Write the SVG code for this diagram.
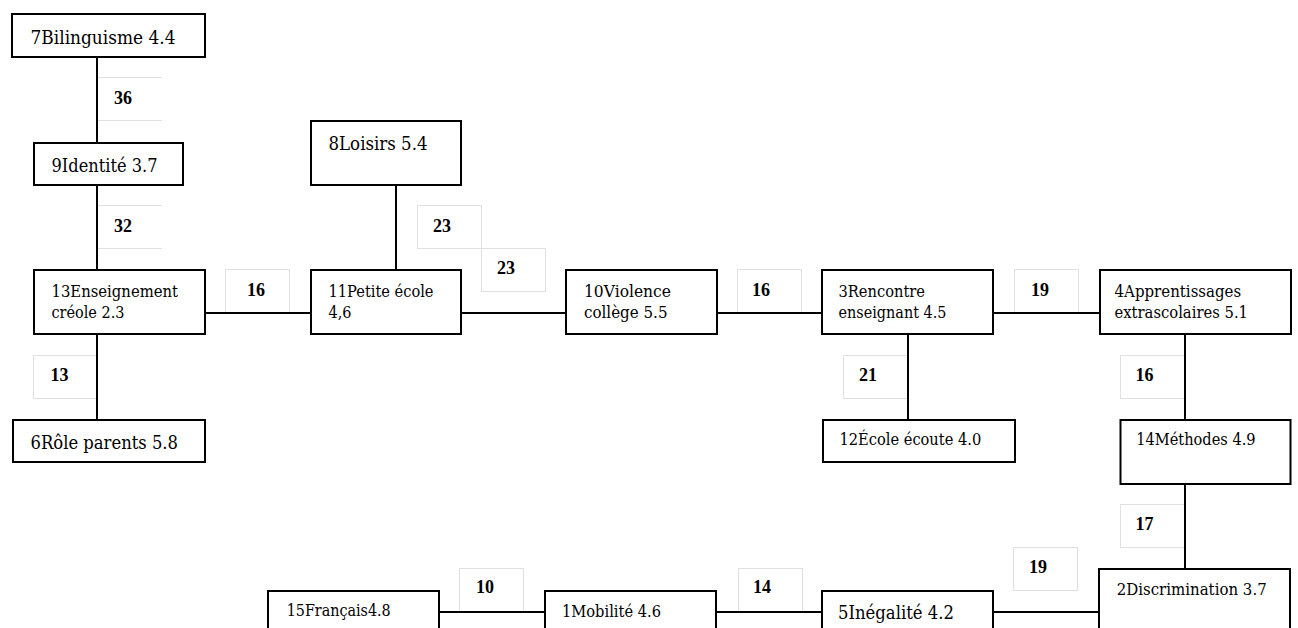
<svg xmlns="http://www.w3.org/2000/svg" width="1298" height="628" viewBox="0 0 1298 628">
<style>
.node rect{fill:#fff;stroke:#000;stroke-width:2}
.node text{font-family:'DejaVu Serif','Liberation Serif',serif;fill:#000}
.s{font-size:17.2px}
.b{font-size:19.3px}
.lbl rect,.lbl path{fill:#fff;stroke:#e0e0e0;stroke-width:1}
.lbl text{font-family:'Liberation Serif','DejaVu Serif',serif;font-weight:bold;font-size:18px;fill:#000}
.conn line{stroke:#000;stroke-width:2}
</style>
<rect width="1298" height="628" fill="#fff"/>
<g id="labels" class="lbl">
<g id="l-7-9"><path d="M97 77.5H162M97 120.5H162"/><text x="114" y="104">36</text></g>
<g id="l-9-13"><path d="M97 205.5H162M97 248.5H162"/><text x="114" y="232">32</text></g>
<g id="l-13-11"><rect x="225.5" y="269.5" width="64" height="43.5"/><text x="247" y="295.5">16</text></g>
<g id="l-8-11"><rect x="417.5" y="205.5" width="64" height="43"/><text x="433" y="231.5">23</text></g>
<g id="l-11-10"><rect x="481.5" y="248.5" width="64" height="43"/><text x="497" y="274">23</text></g>
<g id="l-10-3"><rect x="737.5" y="269.5" width="64" height="43.5"/><text x="752" y="295.5">16</text></g>
<g id="l-3-4"><rect x="1014.5" y="269.5" width="64" height="43.5"/><text x="1031" y="295.5">19</text></g>
<g id="l-13-6"><rect x="33.5" y="355.5" width="63" height="43"/><text x="50.5" y="380.5">13</text></g>
<g id="l-3-12"><rect x="843.5" y="355.5" width="64" height="43"/><text x="859" y="380.5">21</text></g>
<g id="l-4-14"><rect x="1120.5" y="355.5" width="64" height="43"/><text x="1135.5" y="380.5">16</text></g>
<g id="l-14-2"><rect x="1120.5" y="504.5" width="64" height="43"/><text x="1135.5" y="530">17</text></g>
<g id="l-5-2"><rect x="1013.5" y="547.5" width="64" height="43"/><text x="1029" y="573">19</text></g>
<g id="l-1-5"><rect x="738.5" y="568.5" width="64" height="43.5"/><text x="753" y="593">14</text></g>
<g id="l-15-1"><rect x="459.5" y="568.5" width="64" height="43.5"/><text x="476" y="593">10</text></g>
</g>
<g id="connectors" class="conn">
<line x1="97" y1="57" x2="97" y2="143"/>
<line x1="97" y1="185" x2="97" y2="270"/>
<line x1="97" y1="334" x2="97" y2="420"/>
<line x1="205" y1="313" x2="311" y2="313"/>
<line x1="396" y1="185" x2="396" y2="270"/>
<line x1="461" y1="313" x2="566" y2="313"/>
<line x1="717" y1="313" x2="822" y2="313"/>
<line x1="993" y1="313" x2="1100" y2="313"/>
<line x1="908" y1="334" x2="908" y2="420"/>
<line x1="1185" y1="334" x2="1185" y2="420"/>
<line x1="1185" y1="484" x2="1185" y2="569"/>
<line x1="993" y1="612" x2="1099" y2="612"/>
<line x1="716" y1="612" x2="822" y2="612"/>
<line x1="439" y1="612" x2="545" y2="612"/>
</g>
<g id="n7" class="node"><rect x="12" y="14" width="193" height="43"/><text class="b" x="30.5" y="44" textLength="145" lengthAdjust="spacingAndGlyphs">7Bilinguisme 4.4</text></g>
<g id="n9" class="node"><rect x="34" y="143" width="149" height="42"/><text class="b" x="51.5" y="171.5" textLength="106" lengthAdjust="spacingAndGlyphs">9Identité 3.7</text></g>
<g id="n13" class="node"><rect x="34" y="270" width="171" height="64"/><text class="s" x="51.5" y="297" textLength="126.5" lengthAdjust="spacingAndGlyphs">13Enseignement</text><text class="s" x="51.5" y="318" textLength="73" lengthAdjust="spacingAndGlyphs">créole 2.3</text></g>
<g id="n8" class="node"><rect x="311" y="121" width="150" height="64"/><text class="b" x="328.5" y="150" textLength="99" lengthAdjust="spacingAndGlyphs">8Loisirs 5.4</text></g>
<g id="n11" class="node"><rect x="311" y="270" width="150" height="64"/><text class="s" x="328.5" y="297" textLength="105" lengthAdjust="spacingAndGlyphs">11Petite école</text><text class="s" x="328.5" y="318" textLength="23" lengthAdjust="spacingAndGlyphs">4,6</text></g>
<g id="n10" class="node"><rect x="566" y="270" width="151" height="64"/><text class="s" x="584" y="297" textLength="87" lengthAdjust="spacingAndGlyphs">10Violence</text><text class="s" x="584" y="318" textLength="83.5" lengthAdjust="spacingAndGlyphs">collège 5.5</text></g>
<g id="n3" class="node"><rect x="822" y="270" width="171" height="64"/><text class="s" x="838.5" y="297" textLength="86.5" lengthAdjust="spacingAndGlyphs">3Rencontre</text><text class="s" x="838.5" y="318" textLength="108" lengthAdjust="spacingAndGlyphs">enseignant 4.5</text></g>
<g id="n4" class="node"><rect x="1100" y="270" width="191" height="64"/><text class="s" x="1114.5" y="297" textLength="126.7" lengthAdjust="spacingAndGlyphs">4Apprentissages</text><text class="s" x="1114.5" y="318" textLength="133.5" lengthAdjust="spacingAndGlyphs">extrascolaires 5.1</text></g>
<g id="n6" class="node"><rect x="13" y="420" width="192" height="42"/><text class="b" x="30.5" y="449" textLength="147.5" lengthAdjust="spacingAndGlyphs">6Rôle parents 5.8</text></g>
<g id="n12" class="node"><rect x="823" y="420" width="192" height="42"/><text class="s" x="839.5" y="445" textLength="141.7" lengthAdjust="spacingAndGlyphs">12École écoute 4.0</text></g>
<g id="n14" class="node"><rect x="1120.5" y="420" width="170" height="64"/><text class="s" x="1136.3" y="445" textLength="119.3" lengthAdjust="spacingAndGlyphs">14Méthodes 4.9</text></g>
<g id="n2" class="node"><rect x="1099" y="569" width="191" height="80"/><text class="s" x="1116.7" y="595" textLength="150" lengthAdjust="spacingAndGlyphs">2Discrimination 3.7</text></g>
<g id="n5" class="node"><rect x="822" y="591" width="171" height="60"/><text class="b" x="838" y="618.5" textLength="116" lengthAdjust="spacingAndGlyphs">5Inégalité 4.2</text></g>
<g id="n1" class="node"><rect x="545" y="591" width="171" height="60"/><text class="s" x="562" y="617" textLength="99" lengthAdjust="spacingAndGlyphs">1Mobilité 4.6</text></g>
<g id="n15" class="node"><rect x="268" y="591" width="171" height="60"/><text class="s" x="286.7" y="616" textLength="104" lengthAdjust="spacingAndGlyphs">15Français4.8</text></g>
</svg>
